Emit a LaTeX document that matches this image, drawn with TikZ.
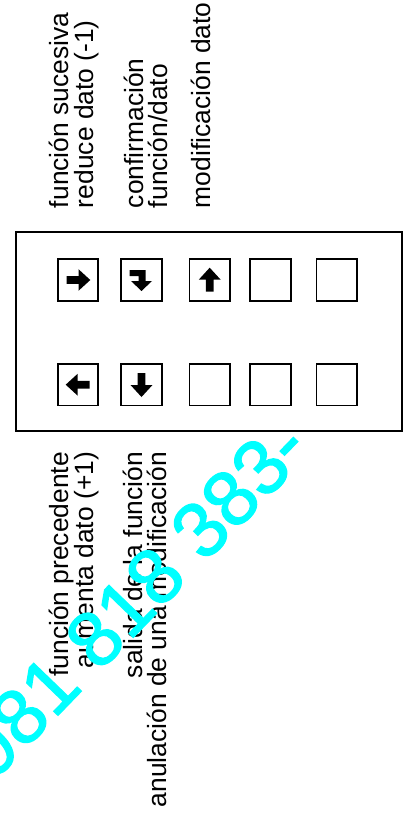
\documentclass[tikz,border=0pt]{standalone}
\usepackage{fontspec}
\setmainfont{Liberation Sans}
\newfontfamily\wmfont[FakeBold=1.6]{Liberation Sans}
\definecolor{wmcyan}{RGB}{0,255,255}
\tikzset{
  lbl/.style={inner sep=0pt, outer sep=0pt, rotate=90, font=\fontsize{26.4}{26.4}\selectfont},
  keybox/.style={draw, line width=1.8pt, minimum width=40.5pt, minimum height=41.5pt, inner sep=0pt},
  frame/.style={draw, line width=2pt},
  wm/.style={text=wmcyan, inner sep=0pt, font=\wmfont\fontsize{78}{78}\selectfont}
}
\begin{document}
\begin{tikzpicture}[x=1pt,y=-1pt]
\useasboundingbox (0,0) rectangle (409,813);
% frame
\node[frame, minimum width=386pt, minimum height=199pt, inner sep=0pt] (panel) at (209,331.5) {};
% keys
\node[keybox] (t1) at (78,280) {};
\node[keybox] (t2) at (141.5,280) {};
\node[keybox] (t3) at (209.7,280) {};
\node[keybox] (t4) at (270.5,280) {};
\node[keybox] (t5) at (336.7,280) {};
\node[keybox] (b1) at (78,384.7) {};
\node[keybox] (b2) at (141.5,384.7) {};
\node[keybox] (b3) at (209.7,384.7) {};
\node[keybox] (b4) at (270.5,384.7) {};
\node[keybox] (b5) at (336.7,384.7) {};
% arrow glyphs
\def\boldarrow{(-11.5,-3.8)--(0.5,-3.8)--(0.5,-10.8)--(12.3,0)--(0.5,10.8)--(0.5,3.8)--(-11.5,3.8)--cycle}
\fill[shift={(t1.center)}] \boldarrow;
\fill[shift={(t3.center)}, rotate=90] \boldarrow;
\fill[shift={(b1.center)}, rotate=180] \boldarrow;
\fill[shift={(b2.center)}, rotate=-90] \boldarrow;
\fill[shift={(t2.center)}] (-12,-10)--(4,-10)--(4,1)--(10.5,1)--(0,11)--(-10.5,1)--(-3,1)--(-3,-4)--(-12,-4)--cycle;
% upper labels
\node[lbl, anchor=base west] (l1) at (68,208) {función sucesiva};
\node[lbl, anchor=base west] (l2) at (93,208) {reduce dato (-1)};
\node[lbl, anchor=base west] (l3) at (143,208) {confirmación};
\node[lbl, anchor=base west] (l4) at (167,208) {función/dato};
\node[lbl, anchor=base west] (l5) at (210,208) {modificación dato};
% lower labels
\node[lbl, anchor=base east] (m1) at (68,452) {función precedente};
\node[lbl, anchor=base east] (m2) at (93,452) {aumenta dato (+1)};
\node[lbl, anchor=base east] (m3) at (142,452) {salida de la función};
\node[lbl, anchor=base east] (m4) at (166,452) {anulación de una modificación};
% watermark
\node[wm, rotate=46] (wmark) at (134,598) {981 818 383-};
\end{tikzpicture}
\end{document}
